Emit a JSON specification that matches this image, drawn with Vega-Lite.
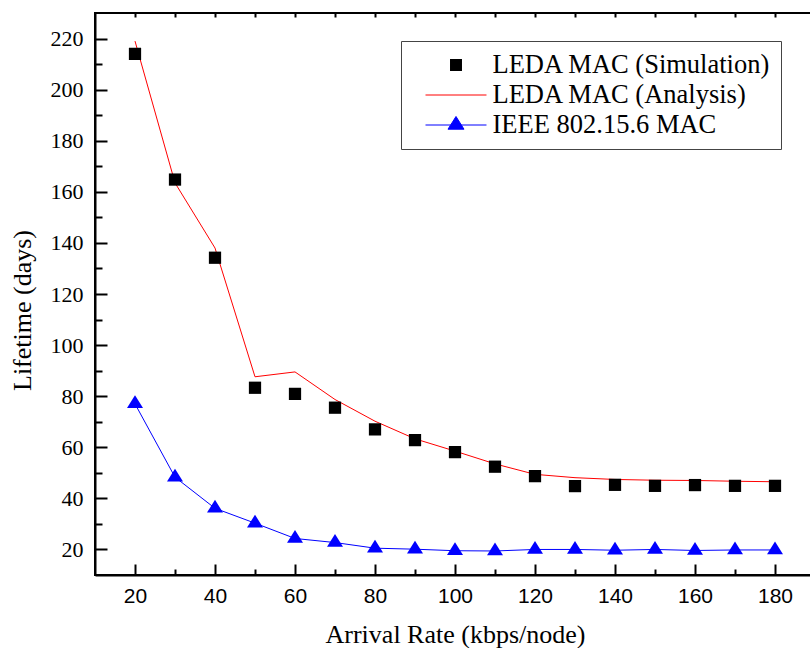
{
  "$schema": "https://vega.github.io/schema/vega-lite/v6.json",
  "width": 720,
  "height": 562,
  "autosize": {"type": "none"},
  "padding": {"left": 95, "top": 13, "right": 0, "bottom": 73},
  "background": "white",
  "datasets": {
    "all": [
      {"rate": 20, "lifetime": 214, "series": "LEDA MAC (Simulation)"},
      {"rate": 30, "lifetime": 164.8, "series": "LEDA MAC (Simulation)"},
      {"rate": 40, "lifetime": 134.2, "series": "LEDA MAC (Simulation)"},
      {"rate": 50, "lifetime": 83.3, "series": "LEDA MAC (Simulation)"},
      {"rate": 60, "lifetime": 80.9, "series": "LEDA MAC (Simulation)"},
      {"rate": 70, "lifetime": 75.5, "series": "LEDA MAC (Simulation)"},
      {"rate": 80, "lifetime": 67, "series": "LEDA MAC (Simulation)"},
      {"rate": 90, "lifetime": 62.8, "series": "LEDA MAC (Simulation)"},
      {"rate": 100, "lifetime": 58.1, "series": "LEDA MAC (Simulation)"},
      {"rate": 110, "lifetime": 52.4, "series": "LEDA MAC (Simulation)"},
      {"rate": 120, "lifetime": 48.7, "series": "LEDA MAC (Simulation)"},
      {"rate": 130, "lifetime": 44.8, "series": "LEDA MAC (Simulation)"},
      {"rate": 140, "lifetime": 45.3, "series": "LEDA MAC (Simulation)"},
      {"rate": 150, "lifetime": 44.9, "series": "LEDA MAC (Simulation)"},
      {"rate": 160, "lifetime": 45.2, "series": "LEDA MAC (Simulation)"},
      {"rate": 170, "lifetime": 44.9, "series": "LEDA MAC (Simulation)"},
      {"rate": 180, "lifetime": 44.9, "series": "LEDA MAC (Simulation)"},
      {"rate": 20, "lifetime": 219, "series": "LEDA MAC (Analysis)"},
      {"rate": 30, "lifetime": 163.5, "series": "LEDA MAC (Analysis)"},
      {"rate": 40, "lifetime": 138, "series": "LEDA MAC (Analysis)"},
      {"rate": 50, "lifetime": 87.6, "series": "LEDA MAC (Analysis)"},
      {"rate": 60, "lifetime": 89.5, "series": "LEDA MAC (Analysis)"},
      {"rate": 70, "lifetime": 78.7, "series": "LEDA MAC (Analysis)"},
      {"rate": 80, "lifetime": 70.2, "series": "LEDA MAC (Analysis)"},
      {"rate": 90, "lifetime": 63.3, "series": "LEDA MAC (Analysis)"},
      {"rate": 100, "lifetime": 58.5, "series": "LEDA MAC (Analysis)"},
      {"rate": 110, "lifetime": 53.5, "series": "LEDA MAC (Analysis)"},
      {"rate": 120, "lifetime": 49.4, "series": "LEDA MAC (Analysis)"},
      {"rate": 130, "lifetime": 48.1, "series": "LEDA MAC (Analysis)"},
      {"rate": 140, "lifetime": 47.4, "series": "LEDA MAC (Analysis)"},
      {"rate": 150, "lifetime": 47.1, "series": "LEDA MAC (Analysis)"},
      {"rate": 160, "lifetime": 47, "series": "LEDA MAC (Analysis)"},
      {"rate": 170, "lifetime": 46.7, "series": "LEDA MAC (Analysis)"},
      {"rate": 180, "lifetime": 46.5, "series": "LEDA MAC (Analysis)"},
      {"rate": 20, "lifetime": 77.0, "series": "IEEE 802.15.6 MAC"},
      {"rate": 30, "lifetime": 48.3, "series": "IEEE 802.15.6 MAC"},
      {"rate": 40, "lifetime": 36.1, "series": "IEEE 802.15.6 MAC"},
      {"rate": 50, "lifetime": 30.3, "series": "IEEE 802.15.6 MAC"},
      {"rate": 60, "lifetime": 24.3, "series": "IEEE 802.15.6 MAC"},
      {"rate": 70, "lifetime": 22.7, "series": "IEEE 802.15.6 MAC"},
      {"rate": 80, "lifetime": 20.5, "series": "IEEE 802.15.6 MAC"},
      {"rate": 90, "lifetime": 20.1, "series": "IEEE 802.15.6 MAC"},
      {"rate": 100, "lifetime": 19.5, "series": "IEEE 802.15.6 MAC"},
      {"rate": 110, "lifetime": 19.4, "series": "IEEE 802.15.6 MAC"},
      {"rate": 120, "lifetime": 20.0, "series": "IEEE 802.15.6 MAC"},
      {"rate": 130, "lifetime": 20.0, "series": "IEEE 802.15.6 MAC"},
      {"rate": 140, "lifetime": 19.7, "series": "IEEE 802.15.6 MAC"},
      {"rate": 150, "lifetime": 20.0, "series": "IEEE 802.15.6 MAC"},
      {"rate": 160, "lifetime": 19.6, "series": "IEEE 802.15.6 MAC"},
      {"rate": 170, "lifetime": 19.8, "series": "IEEE 802.15.6 MAC"},
      {"rate": 180, "lifetime": 19.8, "series": "IEEE 802.15.6 MAC"}
    ]
  },
  "data": {"name": "all"},
  "config": {
    "view": {"stroke": "black", "strokeWidth": 2},
    "axis": {
      "domainColor": "black",
      "domainWidth": 2,
      "tickColor": "black",
      "tickWidth": 2,
      "grid": false,
      "labelColor": "black",
      "titleColor": "black",
      "titleFont": "Liberation Serif",
      "titleFontWeight": "normal",
      "titleFontSize": 26
    },
    "legend": {
      "orient": "none",
      "legendX": 306,
      "legendY": 28,
      "padding": 10,
      "strokeColor": "#444444",
      "fillColor": "white",
      "clipHeight": 28,
      "rowPadding": 2,
      "symbolSize": 4900,
      "symbolOffset": 9.5,
      "symbolStrokeWidth": 1,
      "symbolOpacity": 1,
      "labelOffset": 1,
      "labelFont": "Liberation Serif",
      "labelFontSize": 26.5,
      "labelColor": "black",
      "labelLimit": 0
    }
  },
  "layer": [
    {
      "transform": [{"filter": "datum.series !== 'LEDA MAC (Simulation)'"}],
      "mark": {"type": "line", "strokeWidth": 1},
      "encoding": {
        "x": {
          "field": "rate",
          "type": "quantitative",
          "scale": {"domain": [10, 190], "nice": false, "zero": false},
          "axis": {
            "orient": "bottom",
            "title": "Arrival Rate (kbps/node)",
            "values": [20, 40, 60, 80, 100, 120, 140, 160, 180],
            "labelFont": "Liberation Sans",
            "labelFontSize": 21,
            "tickSize": -11,
            "labelPadding": 21,
            "labelFlush": false,
            "labelOverlap": false,
            "titleY": 46
          }
        },
        "y": {
          "field": "lifetime",
          "type": "quantitative",
          "scale": {"domain": [10, 230], "nice": false, "zero": false},
          "axis": {
            "orient": "left",
            "title": "Lifetime (days)",
            "values": [20, 40, 60, 80, 100, 120, 140, 160, 180, 200, 220],
            "labelFont": "Liberation Serif",
            "labelFontSize": 22,
            "tickSize": -12,
            "labelPadding": 24,
            "labelFlush": false,
            "labelOverlap": false,
            "titleX": -60,
            "titleY": 297
          }
        },
        "stroke": {
          "field": "series",
          "type": "nominal",
          "scale": {
            "domain": ["LEDA MAC (Simulation)", "LEDA MAC (Analysis)", "IEEE 802.15.6 MAC"],
            "range": ["transparent", "red", "blue"]
          },
          "legend": {"title": null}
        }
      }
    },
    {
      "transform": [{"filter": "datum.series === 'LEDA MAC (Simulation)'"}],
      "mark": {"type": "point", "shape": "square", "filled": true, "color": "black", "size": 150, "opacity": 1},
      "encoding": {
        "x": {
          "field": "rate",
          "type": "quantitative",
          "axis": {
            "orient": "bottom",
            "title": null,
            "labels": false,
            "domain": false,
            "tickSize": -6,
            "values": [30, 50, 70, 90, 110, 130, 150, 170]
          }
        },
        "y": {
          "field": "lifetime",
          "type": "quantitative",
          "axis": {
            "orient": "left",
            "title": null,
            "labels": false,
            "domain": false,
            "tickSize": -7,
            "values": [30, 50, 70, 90, 110, 130, 150, 170, 190, 210]
          }
        }
      }
    },
    {
      "transform": [{"filter": "datum.series === 'IEEE 802.15.6 MAC'"}],
      "mark": {"type": "point", "shape": "M0,-1.06L1,0.53L-1,0.53Z", "filled": true, "color": "blue", "size": 256, "opacity": 1},
      "encoding": {
        "x": {
          "field": "rate",
          "type": "quantitative",
          "axis": {
            "orient": "top",
            "title": null,
            "labels": false,
            "domain": false,
            "tickSize": -4,
            "values": [20, 30, 40, 50, 60, 70, 80, 90, 100, 110, 120, 130, 140, 150, 160, 170, 180]
          }
        },
        "y": {"field": "lifetime", "type": "quantitative", "axis": null}
      }
    },
    {
      "transform": [{"filter": "datum.rate === 20"}],
      "mark": {"type": "point", "filled": true, "opacity": 0, "strokeWidth": 1},
      "encoding": {
        "x": {"field": "rate", "type": "quantitative", "axis": null},
        "y": {"field": "lifetime", "type": "quantitative", "axis": null},
        "fill": {
          "field": "series",
          "type": "nominal",
          "scale": {
            "domain": ["LEDA MAC (Simulation)", "LEDA MAC (Analysis)", "IEEE 802.15.6 MAC"],
            "range": ["black", "transparent", "blue"]
          },
          "legend": {"title": null}
        },
        "stroke": {
          "field": "series",
          "type": "nominal",
          "legend": {"title": null}
        },
        "shape": {
          "field": "series",
          "type": "nominal",
          "scale": {
            "domain": ["LEDA MAC (Simulation)", "LEDA MAC (Analysis)", "IEEE 802.15.6 MAC"],
            "range": ["M-0.171,-0.171L0.171,-0.171L0.171,0.171L-0.171,0.171Z", "M-0.871,0L0.871,0", "M-0.871,0L0.871,0M0,-0.243L0.229,0.12L-0.229,0.12Z"]
          },
          "legend": {"title": null}
        }
      }
    }
  ],
  "resolve": {"axis": {"x": "independent", "y": "independent"}}
}
